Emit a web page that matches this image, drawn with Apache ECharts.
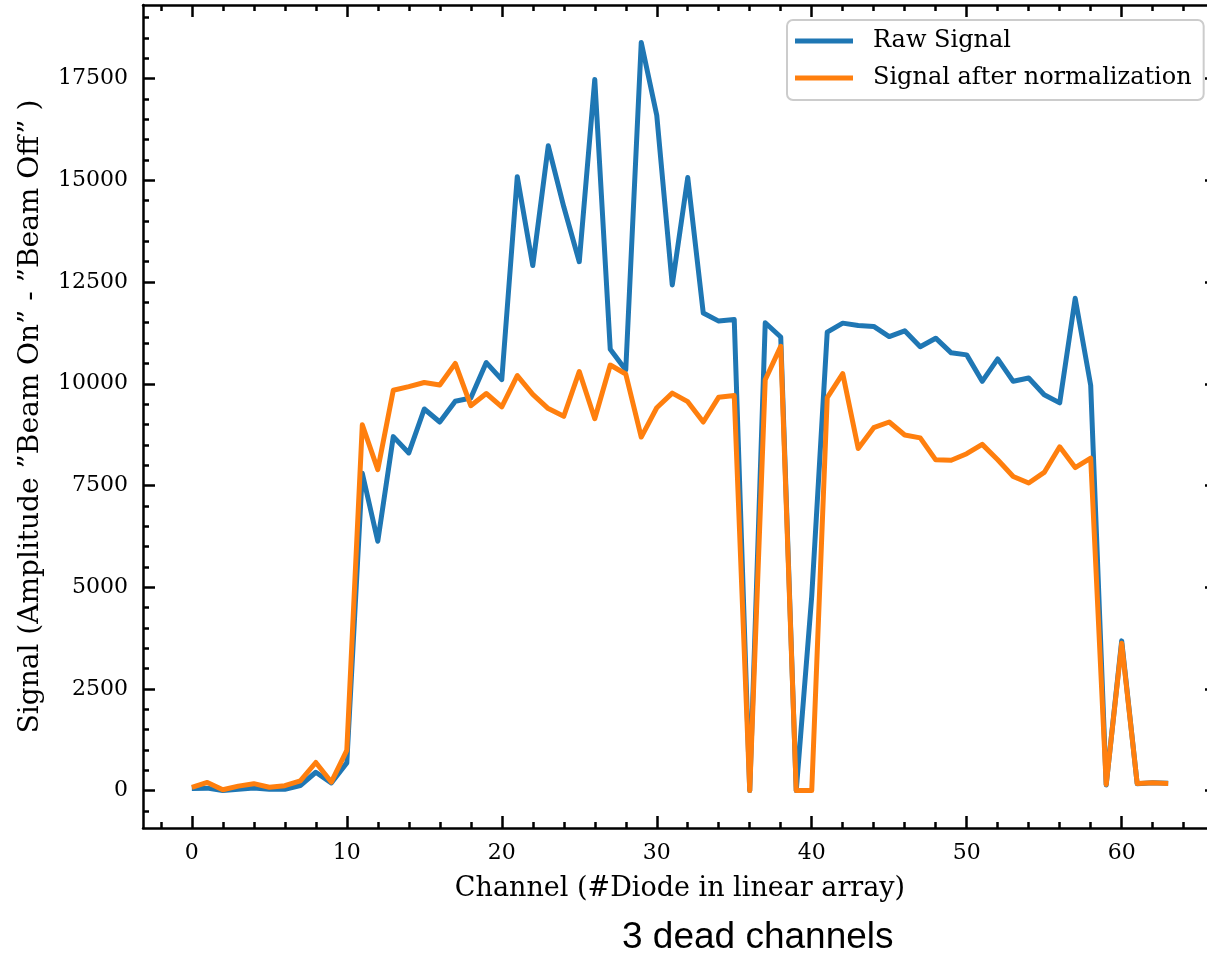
<!DOCTYPE html>
<html>
<head>
<meta charset="utf-8">
<script src="https://cdn.jsdelivr.net/npm/echarts@6.0.0/dist/echarts.min.js"></script>
<style>
  html, body { margin: 0; padding: 0; background: #fff; overflow: hidden; }
  #chart { width: 1207px; height: 957px; }
</style>
</head>
<body>
<div id="chart"></div>
<script>
// ---- data ----
const channels = [0,1,2,3,4,5,6,7,8,9,10,11,12,13,14,15,16,17,18,19,20,21,22,23,24,25,26,27,28,29,30,31,
                  32,33,34,35,36,37,38,39,40,41,42,43,44,45,46,47,48,49,50,51,52,53,54,55,56,57,58,59,60,61,62,63];
const rawSignal = [50,60,0,30,60,30,30,125,450,190,680,7800,6130,8700,8300,9380,9060,9570,9650,10520,10100,
                   15090,12905,15850,14350,13000,17480,10847,10338,18390,16600,12430,15070,11740,11540,11580,
                   0,11500,11150,0,4780,11270,11490,11430,11410,11160,11300,10910,11120,10760,10710,10060,
                   10610,10060,10140,9730,9530,12100,9960,140,3680,170,190,180];
const normSignal = [80,200,20,110,170,83,120,240,690,210,990,8990,7890,9840,9930,10030,9970,10500,9460,9760,9430,
                    10200,9740,9390,9200,10300,9140,10460,10240,8690,9410,9770,9560,9060,9670,9710,
                    0,10100,10920,0,0,9660,10250,8410,8920,9060,8740,8670,8130,8120,8280,8510,
                    8130,7720,7560,7820,8450,7940,8170,150,3620,172,190,172];
const seriesNames = ['Raw Signal', 'Signal after normalization'];
const xMajorTicks = [0,10,20,30,40,50,60];
const xMinorTicks = [-2,2,4,6,8,12,14,16,18,22,24,26,28,32,34,36,38,42,44,46,48,52,54,56,58,62,64,66];
const yMajorTicks = [0,2500,5000,7500,10000,12500,15000,17500];
const yMinorTicks = [-500,500,1000,1500,2000,3000,3500,4000,4500,5500,6000,6500,7000,8000,8500,9000,9500,
                     10500,11000,11500,12000,13000,13500,14000,14500,15500,16000,16500,17000,18000,18500,19000];
const xTitle = 'Channel (#Diode in linear array)';
const yTitle = 'Signal (Amplitude \u201DBeam On\u201D - \u201DBeam Off\u201D )';
const noteText = '3 dead channels';

const X_MIN = -3.15, X_MAX = 66.15, Y_MIN = -920, Y_MAX = 19310;

const chart = echarts.init(document.getElementById('chart'), null, { renderer: 'canvas' });

const black = '#000000';
const serif = 'DejaVu Serif';
const tickFont = { fontFamily: serif, fontSize: 22, color: black };

function xAxisDef(position, values, len, showLine, showLabel, extra) {
  return Object.assign({
    type: 'value', min: X_MIN, max: X_MAX, position: position,
    axisLine: { show: showLine, onZero: false, lineStyle: { color: black, width: 2.5 } },
    axisTick: { show: true, inside: true, length: len, customValues: values, lineStyle: { color: black, width: 2.5 } },
    axisLabel: showLabel ? Object.assign({ show: true, customValues: values, margin: 14, formatter: v => String(v) }, tickFont) : { show: false },
    splitLine: { show: false }
  }, extra || {});
}
function yAxisDef(position, values, len, showLine, showLabel, extra) {
  return Object.assign({
    type: 'value', min: Y_MIN, max: Y_MAX, position: position,
    axisLine: { show: showLine, onZero: false, lineStyle: { color: black, width: 2.5 } },
    axisTick: { show: true, inside: true, length: len, customValues: values, lineStyle: { color: black, width: 2.5 } },
    axisLabel: showLabel ? Object.assign({ show: true, customValues: values, margin: 15, formatter: v => String(v) }, tickFont) : { show: false },
    splitLine: { show: false }
  }, extra || {});
}

const option = {
  animation: false,
  backgroundColor: '#ffffff',
  grid: { left: 143, width: 1074, top: 5, height: 823, outerBoundsMode: 'none' },
  xAxis: [
    xAxisDef('bottom', xMajorTicks, 12, true, true, {
      name: xTitle, nameLocation: 'middle', nameGap: 47,
      nameTextStyle: { fontFamily: serif, fontSize: 27, color: black }
    }),
    xAxisDef('bottom', xMinorTicks, 6, false, false),
    xAxisDef('top', xMajorTicks, 12, true, false),
    xAxisDef('top', xMinorTicks, 6, false, false)
  ],
  yAxis: [
    yAxisDef('left', yMajorTicks, 12, true, true, {
      name: yTitle, nameLocation: 'middle', nameGap: 98,
      nameTextStyle: { fontFamily: serif, fontSize: 28, color: black }
    }),
    yAxisDef('left', yMinorTicks, 6, false, false),
    yAxisDef('right', yMajorTicks, 12, true, false),
    yAxisDef('right', yMinorTicks, 6, false, false)
  ],
  legend: {
    orient: 'vertical', left: 787, top: 20,
    icon: 'rect', itemWidth: 58, itemHeight: 5, itemGap: 9,
    padding: [7, 12, 8, 8],
    backgroundColor: 'rgba(255,255,255,0.85)',
    borderColor: '#cccccc', borderWidth: 2, borderRadius: 6,
    textStyle: { fontFamily: serif, fontSize: 24, color: black, lineHeight: 28, padding: [0, 0, 0, 15] },
    data: seriesNames
  },
  series: [
    {
      name: seriesNames[0], type: 'line', xAxisIndex: 0, yAxisIndex: 0,
      data: channels.map((c, i) => [c, rawSignal[i]]),
      showSymbol: false, symbol: 'none',
      lineStyle: { color: '#1f77b4', width: 5, join: 'round' },
      itemStyle: { color: '#1f77b4' }
    },
    {
      name: seriesNames[1], type: 'line', xAxisIndex: 0, yAxisIndex: 0,
      data: channels.map((c, i) => [c, normSignal[i]]),
      showSymbol: false, symbol: 'none',
      lineStyle: { color: '#ff7f0e', width: 5, join: 'round' },
      itemStyle: { color: '#ff7f0e' }
    }
  ],
  graphic: [
    {
      type: 'text', left: 622, top: 919,
      style: { text: noteText, fontFamily: 'Liberation Sans', fontSize: 37, fill: black }
    }
  ]
};
chart.setOption(option);
</script>
</body>
</html>
